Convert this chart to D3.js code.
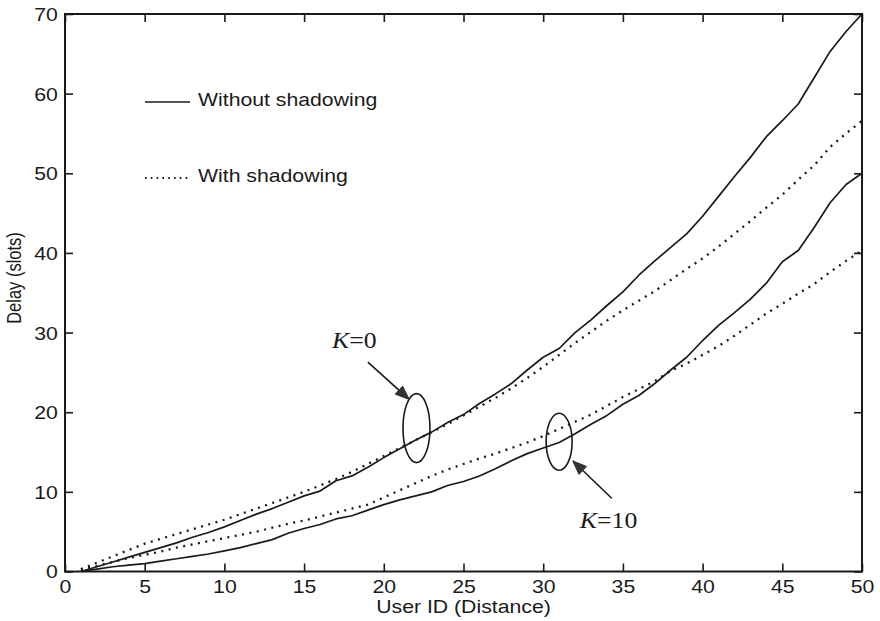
<!DOCTYPE html>
<html>
<head>
<meta charset="utf-8">
<script src="https://cdn.jsdelivr.net/npm/d3@7"></script>
<style>
  html, body { margin: 0; padding: 0; background: #fff; }
  svg { display: block; }
  text { font-family: "Liberation Sans", Arial, Helvetica, sans-serif; fill: #1a1a1a; }
</style>
</head>
<body>
<svg id="chart" width="880" height="621"></svg>
<script>
// User IDs (ordered by distance)
const userIds = d3.range(1, 51);

// Mean access delay in slots
const k0NoShadow = [0, 0.6, 1.2, 1.8, 2.4, 3.0, 3.6, 4.3, 4.9, 5.6,
  6.4, 7.2, 7.9, 8.7, 9.5, 10.1, 11.4, 12.0, 13.1, 14.3,
  15.4, 16.5, 17.5, 18.7, 19.7, 21.1, 22.3, 23.6, 25.3, 26.9,
  28.0, 30.0, 31.6, 33.4, 35.1, 37.2, 39.0, 40.7, 42.4, 44.6,
  47.1, 49.6, 52.0, 54.6, 56.6, 58.7, 62.0, 65.3, 67.8, 70.0];
const k0Shadow = [0.3, 1.1, 1.9, 2.7, 3.5, 4.1, 4.7, 5.3, 5.9, 6.5,
  7.2, 7.9, 8.6, 9.3, 10.0, 10.8, 11.6, 12.5, 13.5, 14.5,
  15.5, 16.5, 17.5, 18.5, 19.6, 20.7, 21.8, 23.0, 24.3, 25.7,
  27.2, 28.7, 30.1, 31.5, 32.8, 34.0, 35.2, 36.6, 38.0, 39.3,
  40.8, 42.4, 44.0, 45.7, 47.3, 49.2, 51.0, 53.3, 55.0, 56.6];
const k10NoShadow = [0, 0.3, 0.6, 0.8, 1.0, 1.3, 1.6, 1.9, 2.2, 2.6,
  3.0, 3.5, 4.0, 4.8, 5.4, 5.9, 6.6, 7.0, 7.7, 8.4,
  9.0, 9.5, 10.0, 10.8, 11.3, 12.0, 12.9, 13.9, 14.8, 15.5,
  16.2, 17.3, 18.5, 19.6, 21.0, 22.1, 23.6, 25.3, 26.9, 29.0,
  30.9, 32.5, 34.2, 36.2, 38.9, 40.3, 43.2, 46.3, 48.6, 50.0];
const k10Shadow = [0.2, 0.7, 1.2, 1.7, 2.1, 2.5, 3.0, 3.4, 3.8, 4.2,
  4.6, 5.0, 5.5, 6.0, 6.4, 6.9, 7.4, 7.9, 8.4, 9.3,
  10.2, 11.1, 12.0, 12.8, 13.5, 14.2, 14.8, 15.5, 16.2, 17.0,
  17.9, 18.8, 19.7, 20.8, 21.9, 22.9, 23.9, 25.2, 26.1, 27.2,
  28.3, 29.6, 31.0, 32.4, 33.6, 34.9, 36.1, 37.6, 39.0, 40.3];

const xTicks = [0, 5, 10, 15, 20, 25, 30, 35, 40, 45, 50];
const yTicks = [0, 10, 20, 30, 40, 50, 60, 70];

const legendLabels = ["Without shadowing", "With shadowing"];

const svg = d3.select("#chart");
const L = 65, R = 862, T = 14, B = 571.5;
const SX = 1.18; // horizontal stretch of the typeface
const ink = "#1a1a1a";

const x = d3.scaleLinear().domain([0, 50]).range([L, R]);
const y = d3.scaleLinear().domain([0, 70]).range([B, T]);

// Curves
const line = d3.line()
  .x((d, i) => x(userIds[i]))
  .y(d => y(d))
  .curve(d3.curveLinear);

const plot = svg.append("g");
[
  { v: k0NoShadow, dotted: false },
  { v: k10NoShadow, dotted: false },
  { v: k0Shadow, dotted: true },
  { v: k10Shadow, dotted: true }
].forEach(s => {
  plot.append("path")
    .datum(s.v)
    .attr("d", line)
    .attr("fill", "none")
    .attr("stroke", ink)
    .attr("stroke-width", s.dotted ? 2.3 : 1.7)
    .attr("stroke-linejoin", "round")
    .attr("stroke-dasharray", s.dotted ? "2,5.5" : null);
});

// Axes (inward ticks on all four sides, labels on bottom and left)
function styleAxis(g) {
  g.select(".domain").remove();
  g.selectAll(".tick line").attr("stroke", ink).attr("stroke-width", 1.6);
}
const gx = svg.append("g").attr("transform", `translate(0,${B})`)
  .call(d3.axisBottom(x).tickValues(xTicks).tickSizeInner(-8).tickSizeOuter(0).tickPadding(9))
  .call(styleAxis);
gx.selectAll(".tick text")
  .attr("font-size", 18).attr("fill", ink)
  .attr("transform", `scale(${SX},1)`)
  .attr("x", 0);

const gy = svg.append("g").attr("transform", `translate(${L},0)`)
  .call(d3.axisLeft(y).tickValues(yTicks).tickSizeInner(-8).tickSizeOuter(0).tickPadding(6))
  .call(styleAxis);
gy.selectAll(".tick text")
  .attr("font-size", 18).attr("fill", ink)
  .attr("transform", `scale(${SX},1)`)
  .attr("dy", "0.36em");

svg.append("g").attr("transform", `translate(0,${T})`)
  .call(d3.axisTop(x).tickValues(xTicks).tickSizeInner(-8).tickSizeOuter(0).tickFormat(""))
  .call(styleAxis);
svg.append("g").attr("transform", `translate(${R},0)`)
  .call(d3.axisRight(y).tickValues(yTicks).tickSizeInner(-8).tickSizeOuter(0).tickFormat(""))
  .call(styleAxis);

// Frame
svg.append("rect")
  .attr("x", L).attr("y", T).attr("width", R - L).attr("height", B - T)
  .attr("fill", "none").attr("stroke", ink).attr("stroke-width", 2);

// Axis titles
svg.append("text")
  .attr("transform", `translate(${x(25)},613) scale(${SX},1)`)
  .attr("text-anchor", "middle").attr("font-size", 18)
  .text("User ID (Distance)");
svg.append("text")
  .attr("transform", `translate(20.5,278) rotate(-90) scale(1,${SX})`)
  .attr("text-anchor", "middle").attr("font-size", 16.5)
  .text("Delay (slots)");

// Legend
const legend = svg.append("g");
[0, 1].forEach(i => {
  const ly = i === 0 ? 102 : 178;
  legend.append("line")
    .attr("x1", 145).attr("x2", 190).attr("y1", ly).attr("y2", ly)
    .attr("stroke", ink)
    .attr("stroke-width", i === 0 ? 1.4 : 2)
    .attr("stroke-dasharray", i === 0 ? null : "1.6,4.2");
  legend.append("text")
    .attr("transform", `translate(198,${ly + 4}) scale(${SX},1)`)
    .attr("font-size", 18)
    .text(legendLabels[i]);
});

// Annotations: ellipses, arrows and K labels
const ann = svg.append("g").attr("stroke", ink).attr("fill", "none");
const ellipses = [
  { cx: 22.05, cy: 18.0, rx: 13.5, ry: 34.5 },
  { cx: 31.0, cy: 16.3, rx: 13, ry: 28.5 }
];
ellipses.forEach(e => {
  ann.append("ellipse")
    .attr("cx", x(e.cx)).attr("cy", y(e.cy))
    .attr("rx", e.rx).attr("ry", e.ry)
    .attr("stroke-width", 1.6);
});

const arrows = [
  { x1: 19.0, y1: 26.3, x2: 21.6, y2: 21.6 },
  { x1: 34.3, y1: 9.2, x2: 31.85, y2: 13.9 }
];
arrows.forEach(a => {
  const X1 = x(a.x1), Y1 = y(a.y1), X2 = x(a.x2), Y2 = y(a.y2);
  const ang = Math.atan2(Y2 - Y1, X2 - X1);
  const len = 14, half = 5.5;
  const bx = X2 - len * Math.cos(ang), by = Y2 - len * Math.sin(ang);
  ann.append("line")
    .attr("x1", X1).attr("y1", Y1).attr("x2", bx).attr("y2", by)
    .attr("stroke-width", 1.6);
  const px = -Math.sin(ang) * half, py = Math.cos(ang) * half;
  ann.append("polygon")
    .attr("points", [[X2, Y2], [bx + px, by + py], [bx - px, by - py]].map(p => p.join(",")).join(" "))
    .attr("fill", "#333").attr("stroke", "#333").attr("stroke-width", 1);
});

const kLabels = [
  { x: 16.75, y: 28.1, k: "0" },
  { x: 32.3, y: 5.5, k: "10" }
];
kLabels.forEach(l => {
  const t = svg.append("text")
    .attr("transform", `translate(${x(l.x)},${y(l.y)}) scale(1.12,1)`)
    .style("font-family", '"Liberation Serif", "Times New Roman", serif')
    .attr("font-size", 23);
  t.append("tspan").attr("font-style", "italic").text("K");
  t.append("tspan").text("=" + l.k);
});
</script>
</body>
</html>
